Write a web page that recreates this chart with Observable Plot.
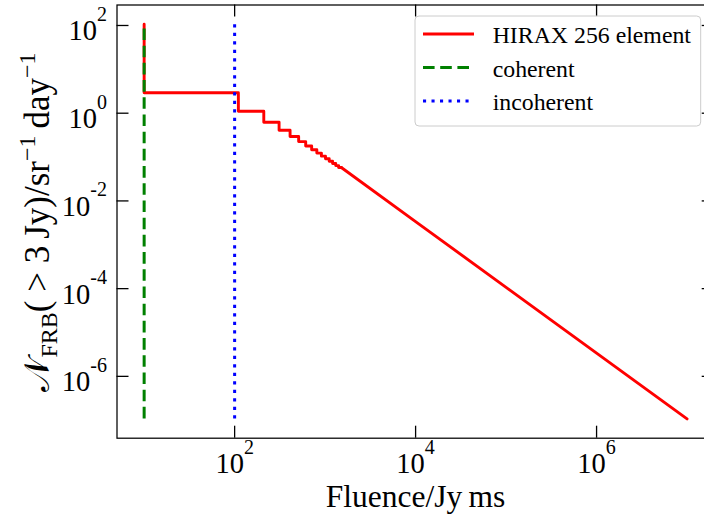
<!DOCTYPE html>
<html><head><meta charset="utf-8">
<script src="https://cdn.jsdelivr.net/npm/d3@7"></script>
<script src="https://cdn.jsdelivr.net/npm/@observablehq/plot@0.6"></script>
<style>
html,body{margin:0;padding:0;overflow:hidden;width:704px;height:518px;background:#fff}
#chart{width:704px;height:518px;overflow:hidden}
</style>
</head><body><div id="chart"></div>
<script>
// ---- data ----
const seriesNames = ["HIRAX 256 element", "coherent", "incoherent"];
const stepFluence = [10, 110, 210, 310, 410, 510, 610, 710, 810, 910, 1010, 1110, 1210, 1310, 1410, 1510];
const stepRate = [107, 2.93, 1.11, 0.62, 0.408, 0.294, 0.225, 0.179, 0.147, 0.123, 0.105, 0.0915, 0.0804, 0.0714, 0.0639, 0.0577];
const tailFluence = [1510, 1e4, 1e5, 1e6, 1e7];
const tailRate = [0.0577, 3.38e-3, 1.07e-4, 3.38e-6, 1.07e-7];
const coherentFluence = [10];
const incoherentFluence = [100];
const thresholdRateRange = [1.07e-7, 107];
const xTickValues = [1e2, 1e4, 1e6];
const xTickLabels = ["10^2", "10^4", "10^6"];
const yTickValues = [1e2, 1, 1e-2, 1e-4, 1e-6];
const yTickLabels = ["10^2", "10^0", "10^-2", "10^-4", "10^-6"];
const xLabel = "Fluence/Jy\u2009ms";

// ---- layout ----
const W = 720, H = 518;
const mL = 116.5, mR = 6.3, mT = 4.5, mB = 80.3;
const frameW = W - mL - mR, frameH = H - mT - mB;
const serif = "'Liberation Serif','Times New Roman',serif";
const tickFont = 28.5;

const stepData = stepFluence.map((f, i) => ({f, r: stepRate[i]}));
const tailData = tailFluence.map((f, i) => ({f, r: tailRate[i]}));
const coh = coherentFluence.map(f => ({f, r1: thresholdRateRange[0], r2: thresholdRateRange[1]}));
const incoh = incoherentFluence.map(f => ({f, r1: thresholdRateRange[0], r2: thresholdRateRange[1]}));

const plot = Plot.plot({
  width: W, height: H,
  marginLeft: mL, marginRight: mR, marginTop: mT, marginBottom: mB,
  style: {maxWidth: "none", background: "white", fontFamily: serif, overflow: "hidden"},
  x: {type: "log", domain: [Math.pow(10, 0.7), Math.pow(10, 7.3)], axis: null},
  y: {type: "log", domain: [Math.pow(10, -7.41), Math.pow(10, 2.467)], axis: null},
  marks: [
    Plot.line(stepData, {x: "f", y: "r", curve: "step-before", stroke: "#ff0000", strokeWidth: 2.9}),
    Plot.line(tailData, {x: "f", y: "r", stroke: "#ff0000", strokeWidth: 2.9}),
    Plot.ruleX(coh, {x: "f", y1: "r1", y2: "r2", stroke: "#008000", strokeWidth: 3, strokeDasharray: "11.6,5.6"}),
    Plot.ruleX(incoh, {x: "f", y1: "r1", y2: "r2", stroke: "#0000ff", strokeWidth: 3, strokeDasharray: "3.1,5.4"}),
    Plot.frame({stroke: "black", strokeWidth: 1.25}),
    Plot.ruleX(xTickValues, {insetTop: frameH - 12, stroke: "black", strokeWidth: 1.3}),
    Plot.ruleX(xTickValues, {insetBottom: frameH - 12, stroke: "black", strokeWidth: 1.3}),
    Plot.ruleY(yTickValues, {insetRight: frameW - 12, stroke: "black", strokeWidth: 1.3}),
    Plot.ruleY(yTickValues, {insetLeft: frameW - 12, stroke: "black", strokeWidth: 1.3}),
    Plot.text(xTickValues, {x: d => d, text: (d, i) => xTickLabels[i], frameAnchor: "bottom", lineAnchor: "bottom", dy: 35, textAnchor: "middle", fontSize: tickFont, fill: "black"}),
    Plot.text(yTickValues, {y: d => d, text: (d, i) => yTickLabels[i], frameAnchor: "left", lineAnchor: "bottom", dx: -10, dy: 15, textAnchor: "end", fontSize: tickFont, fill: "black"}),
    Plot.text([xLabel], {text: d => d, frameAnchor: "bottom", lineAnchor: "bottom", dy: 69, textAnchor: "middle", fontSize: 31.5, fill: "black"})
  ]
});
document.getElementById("chart").appendChild(plot);

const svg = d3.select(plot);
svg.selectAll("text").each(function() {
  const t = d3.select(this);
  const s = t.text();
  if (s.indexOf("^") < 0) return;
  const [base, exp] = s.split("^");
  t.text(null);
  t.append("tspan").text(base);
  t.append("tspan").attr("dy", -19.5).attr("font-size", 20).text(exp);
});

// y axis label (mathtext-like)
const yl = svg.append("text")
  .attr("transform", "translate(48.5,222) rotate(-90)")
  .attr("text-anchor", "middle").attr("font-size", 35).attr("font-family", serif).attr("fill", "black");
yl.append("tspan").text("\u{1D4A9}");
yl.append("tspan").attr("font-size", 24).attr("dy", 8).text("FRB");
yl.append("tspan").attr("dy", -8).text("( > 3\u2009Jy)/sr");
yl.append("tspan").attr("font-size", 24).attr("dy", -14).text("\u22121");
yl.append("tspan").attr("dy", 14).text("\u2009day");
yl.append("tspan").attr("font-size", 24).attr("dy", -14).text("\u22121");

// legend
const lg = svg.append("g");
lg.append("rect").attr("x", 415).attr("y", 16).attr("width", 285.7).attr("height", 110)
  .attr("rx", 4).attr("fill", "white").attr("fill-opacity", 0.8).attr("stroke", "#cccccc").attr("stroke-width", 1);
const legendStyles = [
  {stroke: "#ff0000", dash: null},
  {stroke: "#008000", dash: "11.6,5.6"},
  {stroke: "#0000ff", dash: "3.1,5.4"}
];
seriesNames.forEach((name, i) => {
  const cy = 34 + i * 33.5;
  const ln = lg.append("line").attr("x1", 423).attr("x2", 474).attr("y1", cy).attr("y2", cy)
    .attr("stroke", legendStyles[i].stroke).attr("stroke-width", 3);
  if (legendStyles[i].dash) ln.attr("stroke-dasharray", legendStyles[i].dash);
  lg.append("text").attr("x", 492.7).attr("y", cy + 9.3).attr("font-size", 23.8)
    .attr("text-anchor", "start").attr("font-family", serif).attr("fill", "black").text(name);
});
</script>
</body></html>
